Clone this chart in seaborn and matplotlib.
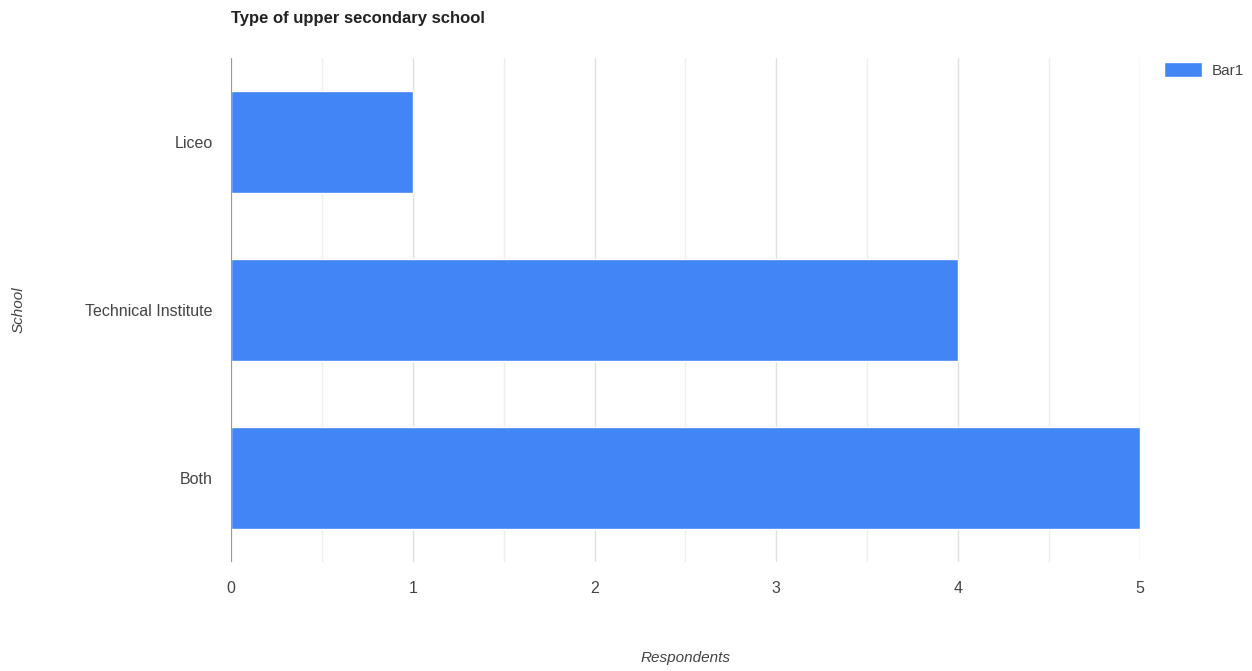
import matplotlib
import matplotlib.pyplot as plt
import pandas as pd
import seaborn as sns
from matplotlib.patches import Patch

matplotlib.use("Agg")

# data
schools = ["Liceo", "Technical Institute", "Both"]
respondents = [1, 4, 5]
series_name = "Bar1"

BAR_COLOR = "#4285f4"
TEXT_COLOR = "#444444"

sns.set_theme(style="white")
plt.rcParams["font.family"] = ["Liberation Sans", "DejaVu Sans"]

df = pd.DataFrame({"School": schools, "Respondents": respondents})

fig = plt.figure(figsize=(12.52, 6.71), dpi=100)
ax = fig.add_axes([0.1845, 0.1624, 0.7260, 0.7512])

sns.barplot(
    data=df,
    x="Respondents",
    y="School",
    orient="h",
    color=BAR_COLOR,
    width=0.607,
    saturation=1,
    ax=ax,
)

ax.set_xlim(0, 5)
ax.set_ylim(2.5, -0.5)

# gridlines every 0.5, labels on integers only
ax.set_xticks([0, 1, 2, 3, 4, 5])
ax.set_xticks([0.5, 1.5, 2.5, 3.5, 4.5], minor=True)
ax.grid(axis="x", which="major", color="#e0e0e0", linewidth=1)
ax.grid(axis="x", which="minor", color="#eeeeee", linewidth=1)
ax.set_axisbelow(True)
ax.axvline(0, color="#999999", linewidth=1.5, zorder=3)

for side in ["top", "right", "bottom", "left"]:
    ax.spines[side].set_visible(False)

ax.tick_params(axis="both", length=0, labelsize=11.5, labelcolor=TEXT_COLOR)
ax.tick_params(axis="x", pad=14)
ax.tick_params(axis="y", pad=13)

ax.set_xlabel("Respondents", fontsize=11, style="italic", color=TEXT_COLOR, va="center")
ax.set_ylabel("School", fontsize=11, style="italic", color=TEXT_COLOR, va="center")
ax.xaxis.set_label_coords(0.5, -0.19)
ax.yaxis.set_label_coords(-0.234, 0.5)

fig.text(0.1845, 0.972, "Type of upper secondary school", fontsize=12,
         fontweight="bold", color="#222222", ha="left", va="center")

fig.legend(
    handles=[Patch(facecolor=BAR_COLOR, label=series_name)],
    loc="upper left",
    bbox_to_anchor=(0.925, 0.916),
    frameon=False,
    fontsize=11,
    handlelength=2.5,
    handleheight=1.1,
    handletextpad=0.6,
    borderaxespad=0,
    labelcolor=TEXT_COLOR,
)

fig.savefig("out.png", dpi=100)
